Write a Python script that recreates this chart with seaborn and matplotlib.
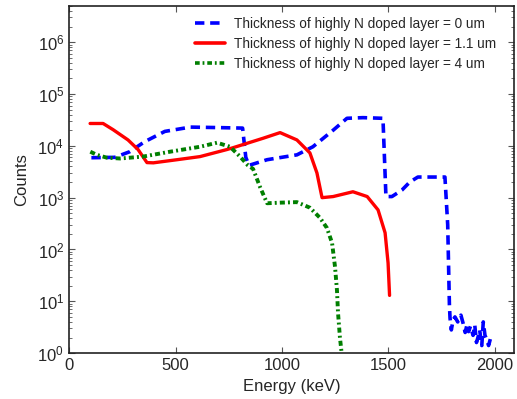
import numpy as np
import pandas as pd
import matplotlib
matplotlib.use("Agg")
import matplotlib.pyplot as plt
import seaborn as sns

# ---- data ----
energy_0um = [105, 215, 285, 355, 450, 570, 700, 815, 830, 845, 930, 1070, 1145, 1240, 1305,
              1380, 1474, 1488, 1516, 1563, 1600, 1638, 1765, 1778, 1786, 1789, 1795, 1803,
              1812, 1825, 1840, 1850, 1860, 1869, 1876, 1885, 1897, 1905, 1913, 1920, 1928,
              1938, 1945, 1953, 1962, 1970, 1980, 1990]
counts_0um = [5900, 6000, 7700, 12000, 19000, 23000, 22500, 22000, 6000, 4200, 5400, 6700, 9600,
              20000, 34000, 35000, 34000, 1050, 1050, 1400, 2000, 2500, 2500, 300, 8.5, 4.7, 2.8,
              4.3, 5.0, 4.0, 5.4, 3.8, 2.5, 3.6, 2.6, 3.3, 2.2, 3.5, 1.6, 2.0, 2.8, 1.4, 4.0,
              2.2, 1.8, 1.4, 2.0, 1.8]

energy_1um = [99, 160, 207, 277, 324, 366, 396, 507, 615, 742, 770, 911, 991, 1070, 1131, 1164,
              1188, 1240, 1333, 1400, 1451, 1484, 1498, 1505]
counts_1um = [27000, 27000, 20500, 13000, 8500, 4750, 4700, 5400, 6200, 8500, 9200, 14000, 18000,
              13000, 7300, 3000, 1000, 1050, 1300, 1050, 580, 210, 55, 13]

energy_4um = [100, 131, 178, 240, 347, 474, 615, 695, 756, 803, 840, 864, 897, 930, 990, 1070,
              1131, 1178, 1211, 1235, 1249, 1258, 1263, 1272, 1280]
counts_4um = [7700, 6700, 5900, 5700, 6200, 7700, 9600, 11500, 9600, 6200, 4200, 3600, 1600, 780,
              800, 820, 640, 410, 260, 134, 46, 16.5, 6, 2, 1]

labels = ["Thickness of highly N doped layer = 0 um",
          "Thickness of highly N doped layer = 1.1 um",
          "Thickness of highly N doped layer = 4 um"]
x_ticks = [0, 500, 1000, 1500, 2000]

sns.set_style("ticks")
plt.rcParams["font.family"] = ["Liberation Sans", "DejaVu Sans"]
plt.rcParams["mathtext.default"] = "regular"

fig = plt.figure(figsize=(5.17, 3.99), dpi=100)
ax = fig.add_axes([0.1335, 0.115, 0.861, 0.87])

df0 = pd.DataFrame({"Energy": energy_0um, "Counts": counts_0um})
df1 = pd.DataFrame({"Energy": energy_1um, "Counts": counts_1um})
df4 = pd.DataFrame({"Energy": energy_4um, "Counts": counts_4um})

sns.lineplot(data=df0, x="Energy", y="Counts", ax=ax, sort=False, estimator=None,
             color="#0000ff", lw=2.6, label=labels[0])
sns.lineplot(data=df1, x="Energy", y="Counts", ax=ax, sort=False, estimator=None,
             color="#ff0000", lw=2.4, label=labels[1])
sns.lineplot(data=df4, x="Energy", y="Counts", ax=ax, sort=False, estimator=None,
             color="#007f00", lw=2.8, label=labels[2])
ax.lines[0].set_dashes([2.6, 1.6])
ax.lines[2].set_dashes([1.3, 0.8, 0.5, 0.8])

ax.set_yscale("log")
ax.set_xlim(0, 2090)
ax.set_ylim(1, 5e6)
ax.set_xticks(x_ticks)
ax.set_xticklabels([str(t) for t in x_ticks])
ax.set_yticks([1, 10, 100, 1e3, 1e4, 1e5, 1e6])
ax.set_yticklabels(["$10^{%d}$" % k for k in range(7)])
ax.tick_params(axis="both", which="both", direction="in", top=True, right=True,
               labelsize=12, color="#555555")
ax.tick_params(axis="both", which="major", length=4, width=0.8)
ax.tick_params(axis="y", which="minor", length=2, width=0.6)
ax.tick_params(axis="x", which="minor", bottom=False, top=False)
for s in ax.spines.values():
    s.set_color("#222222")
    s.set_linewidth(1.2)

ax.set_xlabel("Energy (keV)", fontsize=12)
ax.set_ylabel("Counts", fontsize=12, labelpad=6)

leg = ax.legend(loc="upper right", frameon=False, fontsize=9.8, handlelength=2.2,
                borderaxespad=0.4, labelspacing=0.45, handletextpad=0.7,
                bbox_to_anchor=(0.985, 1.0))
for h in leg.get_lines():
    h.set_linewidth(2.6)

fig.savefig("out.png", dpi=100)
